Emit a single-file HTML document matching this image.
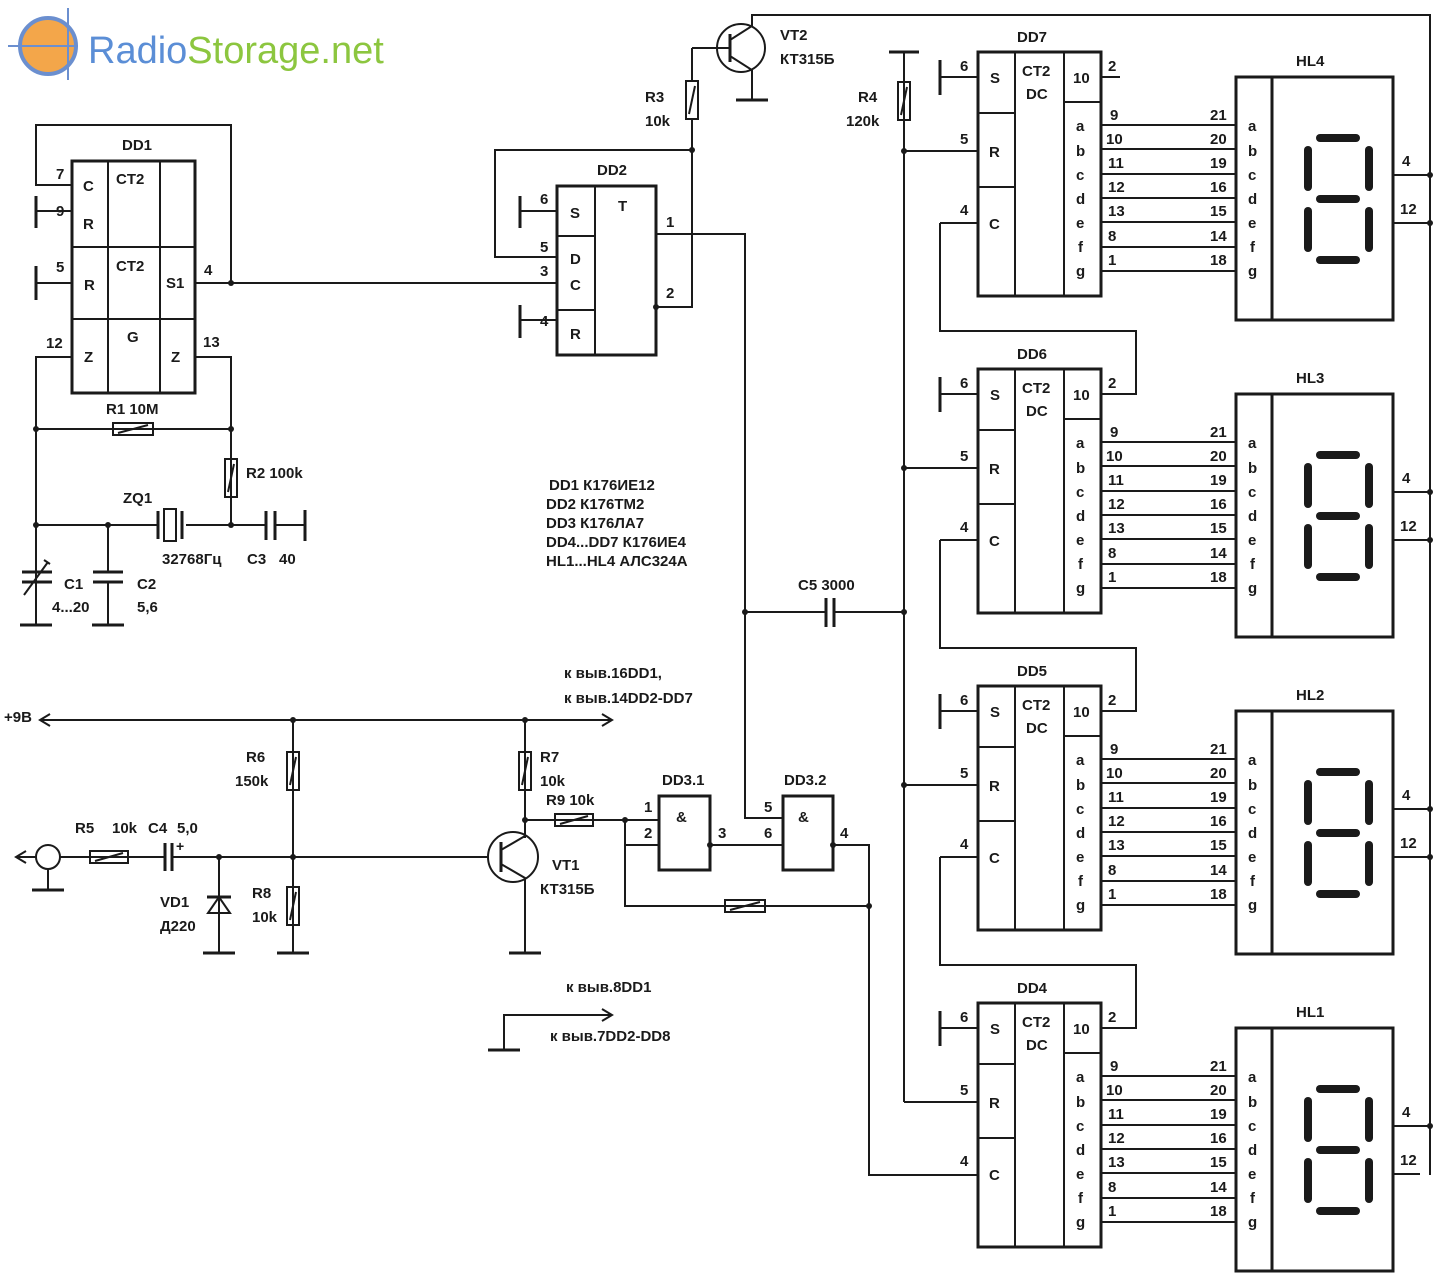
<!DOCTYPE html>
<html><head><meta charset="utf-8"><style>
html,body{margin:0;padding:0;background:#fff}
svg{display:block}
text{font-family:"Liberation Sans",sans-serif;font-size:15px;fill:#1a1a1a;font-weight:bold}
.l{stroke:#1a1a1a;stroke-width:2;fill:none}
.b{stroke:#1a1a1a;stroke-width:3;fill:none}
.s{stroke:#1a1a1a;stroke-width:8;stroke-linecap:round}
.d{fill:#1a1a1a}
</style></head><body>
<svg width="1447" height="1283" viewBox="0 0 1447 1283" xmlns="http://www.w3.org/2000/svg">
<rect width="1447" height="1283" fill="#fff"/>
<!-- logo -->
<circle cx="48" cy="46" r="28" fill="#f3a64a" stroke="#6b8fcf" stroke-width="4"/>
<line x1="8" y1="46" x2="78" y2="46" stroke="#6b8fcf" stroke-width="2"/>
<line x1="68" y1="8" x2="68" y2="80" stroke="#6b8fcf" stroke-width="2"/>
<text x="88" y="63" style="font-size:38px;font-weight:normal;fill:#5b8ed6">Radio<tspan style="fill:#8cc63f">Storage.net</tspan></text>

<!-- DD1 -->
<rect x="72" y="161" width="123" height="232" class="b"/>
<line x1="108" y1="161" x2="108" y2="393" class="l"/><line x1="160" y1="161" x2="160" y2="393" class="l"/>
<line x1="72" y1="247" x2="195" y2="247" class="l"/><line x1="72" y1="319" x2="195" y2="319" class="l"/>
<text x="122" y="150">DD1</text><text x="116" y="184">CT2</text><text x="116" y="271">CT2</text><text x="127" y="342">G</text>
<text x="83" y="191">C</text><text x="83" y="229">R</text><text x="84" y="290">R</text><text x="166" y="288">S1</text>
<text x="84" y="362">Z</text><text x="171" y="362">Z</text>
<text x="56" y="179">7</text><text x="56" y="216">9</text><text x="56" y="272">5</text><text x="46" y="348">12</text>
<text x="204" y="275">4</text><text x="203" y="347">13</text>
<polyline points="72,185 36,185 36,125 231,125 231,283" class="l"/>
<line x1="36" y1="211" x2="72" y2="211" class="l"/><line x1="36" y1="196" x2="36" y2="228" class="b"/>
<line x1="36" y1="283" x2="72" y2="283" class="l"/><line x1="36" y1="266" x2="36" y2="300" class="b"/>
<line x1="195" y1="283" x2="557" y2="283" class="l"/><circle cx="231" cy="283" r="3" class="d"/>
<polyline points="72,357 36,357 36,625" class="l"/>
<polyline points="195,357 231,357 231,525" class="l"/>
<!-- R1 -->
<line x1="36" y1="429" x2="231" y2="429" class="l"/><rect x="113" y="423" width="40" height="12" fill="#fff" class="l"/><line x1="118" y1="433" x2="148" y2="425" class="l"/>
<circle cx="36" cy="429" r="3" class="d"/><circle cx="231" cy="429" r="3" class="d"/>
<text x="106" y="414">R1 10M</text>
<!-- R2 -->
<rect x="225" y="459" width="12" height="38" fill="#fff" class="l"/><line x1="228" y1="492" x2="234" y2="464" class="l"/>
<text x="246" y="478">R2 100k</text>
<!-- crystal line -->
<line x1="36" y1="525" x2="158" y2="525" class="l"/><line x1="186" y1="525" x2="266" y2="525" class="l"/>
<line x1="158" y1="511" x2="158" y2="539" class="b"/><rect x="164" y="509" width="12" height="32" fill="#fff" class="l"/><line x1="182" y1="511" x2="182" y2="539" class="b"/>
<circle cx="36" cy="525" r="3" class="d"/><circle cx="108" cy="525" r="3" class="d"/><circle cx="231" cy="525" r="3" class="d"/>
<text x="123" y="503">ZQ1</text><text x="162" y="564">32768Гц</text>
<line x1="266" y1="511" x2="266" y2="540" class="b"/><line x1="275" y1="511" x2="275" y2="540" class="b"/><line x1="275" y1="525" x2="305" y2="525" class="l"/><line x1="305" y1="510" x2="305" y2="541" class="b"/>
<text x="247" y="564">C3</text><text x="279" y="564">40</text>
<!-- C1 C2 -->
<line x1="36" y1="525" x2="36" y2="572" class="l"/><line x1="22" y1="572" x2="52" y2="572" class="b"/><line x1="22" y1="582" x2="52" y2="582" class="b"/><line x1="36" y1="582" x2="36" y2="625" class="l"/>
<line x1="24" y1="595" x2="48" y2="562" class="l"/><line x1="44" y1="560" x2="50" y2="564" class="l"/>
<line x1="20" y1="625" x2="52" y2="625" class="b"/>
<line x1="108" y1="525" x2="108" y2="572" class="l"/><line x1="93" y1="572" x2="123" y2="572" class="b"/><line x1="93" y1="582" x2="123" y2="582" class="b"/><line x1="108" y1="582" x2="108" y2="625" class="l"/><line x1="92" y1="625" x2="124" y2="625" class="b"/>
<text x="64" y="589">C1</text><text x="52" y="612">4...20</text><text x="137" y="589">C2</text><text x="137" y="612">5,6</text>

<!-- DD2 -->
<rect x="557" y="186" width="99" height="169" class="b"/>
<line x1="595" y1="186" x2="595" y2="355" class="l"/><line x1="557" y1="236" x2="595" y2="236" class="l"/><line x1="557" y1="310" x2="595" y2="310" class="l"/>
<text x="597" y="175">DD2</text><text x="618" y="211">T</text>
<text x="570" y="218">S</text><text x="570" y="264">D</text><text x="570" y="290">C</text><text x="570" y="339">R</text>
<text x="540" y="204">6</text><text x="540" y="252">5</text><text x="540" y="276">3</text><text x="540" y="326">4</text>
<text x="666" y="227">1</text><text x="666" y="298">2</text>
<line x1="520" y1="211" x2="557" y2="211" class="l"/><line x1="520" y1="196" x2="520" y2="228" class="b"/>
<line x1="520" y1="320" x2="557" y2="320" class="l"/><line x1="520" y1="305" x2="520" y2="338" class="b"/>
<polyline points="557,257 495,257 495,150 692,150" class="l"/>
<polyline points="656,307 692,307 692,120" class="l"/><circle cx="692" cy="150" r="3" class="d"/><circle cx="656" cy="307" r="3" class="d"/>
<polyline points="656,234 745,234 745,818 783,818" class="l"/><circle cx="745" cy="612" r="3" class="d"/>
<!-- R3 VT2 -->
<rect x="686" y="81" width="12" height="38" fill="#fff" class="l"/><line x1="689" y1="114" x2="695" y2="86" class="l"/>
<text x="645" y="102">R3</text><text x="645" y="126">10k</text>
<line x1="692" y1="81" x2="692" y2="48" class="l"/><line x1="692" y1="48" x2="730" y2="48" class="l"/>
<circle cx="741" cy="48" r="24" class="l"/><line x1="730" y1="34" x2="730" y2="62" class="b"/>
<polyline points="730,40 752,26 752,15 1430,15 1430,1175" class="l"/>
<polyline points="730,56 752,70 752,100" class="l"/><line x1="736" y1="100" x2="768" y2="100" class="b"/>
<text x="780" y="40">VT2</text><text x="780" y="64">КТ315Б</text>
<!-- R4 -->
<line x1="889" y1="52" x2="919" y2="52" class="b"/>
<line x1="904" y1="52" x2="904" y2="1102" class="l"/>
<rect x="898" y="82" width="12" height="38" fill="#fff" class="l"/><line x1="901" y1="115" x2="907" y2="87" class="l"/>
<text x="858" y="102">R4</text><text x="846" y="126">120k</text>
<!-- C5 -->
<line x1="745" y1="612" x2="826" y2="612" class="l"/><line x1="826" y1="598" x2="826" y2="627" class="b"/><line x1="834" y1="598" x2="834" y2="627" class="b"/><line x1="834" y1="612" x2="904" y2="612" class="l"/><circle cx="904" cy="612" r="3" class="d"/>
<text x="798" y="590">C5 3000</text>
<!-- legend -->
<text x="549" y="490">DD1  К176ИЕ12</text><text x="546" y="509">DD2  К176ТМ2</text><text x="546" y="528">DD3  К176ЛА7</text><text x="546" y="547">DD4...DD7  К176ИЕ4</text><text x="546" y="566">HL1...HL4  АЛС324А</text>

<!-- power -->
<line x1="40" y1="720" x2="612" y2="720" class="l"/>
<polyline points="50,714 40,720 50,726" class="l"/><polyline points="602,714 612,720 602,726" class="l"/>
<text x="4" y="722">+9B</text><text x="564" y="678">к выв.16DD1,</text><text x="564" y="703">к выв.14DD2-DD7</text>
<circle cx="293" cy="720" r="3" class="d"/><circle cx="525" cy="720" r="3" class="d"/>
<line x1="293" y1="720" x2="293" y2="953" class="l"/>
<rect x="287" y="752" width="12" height="38" fill="#fff" class="l"/><line x1="290" y1="785" x2="296" y2="757" class="l"/>
<text x="246" y="762">R6</text><text x="235" y="786">150k</text>
<rect x="287" y="887" width="12" height="38" fill="#fff" class="l"/><line x1="290" y1="920" x2="296" y2="892" class="l"/>
<text x="252" y="898">R8</text><text x="252" y="922">10k</text>
<line x1="277" y1="953" x2="309" y2="953" class="b"/>
<line x1="525" y1="720" x2="525" y2="838" class="l"/>
<rect x="519" y="752" width="12" height="38" fill="#fff" class="l"/><line x1="522" y1="785" x2="528" y2="757" class="l"/>
<text x="540" y="762">R7</text><text x="540" y="786">10k</text>
<circle cx="525" cy="820" r="3" class="d"/>
<!-- input -->
<line x1="16" y1="857" x2="36" y2="857" class="l"/><polyline points="26,851 16,857 26,863" class="l"/>
<circle cx="48" cy="857" r="12" class="l"/><line x1="48" y1="869" x2="48" y2="890" class="l"/><line x1="32" y1="890" x2="64" y2="890" class="b"/>
<line x1="60" y1="857" x2="165" y2="857" class="l"/><line x1="172" y1="857" x2="488" y2="857" class="l"/>
<rect x="90" y="851" width="38" height="12" fill="#fff" class="l"/><line x1="95" y1="861" x2="123" y2="853" class="l"/>
<line x1="165" y1="843" x2="165" y2="871" class="b"/><line x1="172" y1="843" x2="172" y2="871" class="b"/>
<text x="176" y="851" style="font-size:14px">+</text>
<text x="75" y="833">R5</text><text x="112" y="833">10k</text><text x="148" y="833">C4</text><text x="177" y="833">5,0</text>
<circle cx="219" cy="857" r="3" class="d"/><circle cx="293" cy="857" r="3" class="d"/>
<line x1="219" y1="857" x2="219" y2="953" class="l"/>
<polygon points="208,913 230,913 219,897" fill="#fff" class="l"/><line x1="207" y1="897" x2="231" y2="897" class="b"/>
<line x1="203" y1="953" x2="235" y2="953" class="b"/>
<text x="160" y="907">VD1</text><text x="160" y="931">Д220</text>
<!-- VT1 -->
<circle cx="513" cy="857" r="25" class="l"/><line x1="501" y1="842" x2="501" y2="872" class="b"/>
<polyline points="501,850 525,836" class="l"/><polyline points="501,864 525,878 525,953" class="l"/>
<line x1="509" y1="953" x2="541" y2="953" class="b"/>
<text x="552" y="870">VT1</text><text x="540" y="894">КТ315Б</text>
<!-- R9 DD3 -->
<line x1="525" y1="820" x2="659" y2="820" class="l"/>
<rect x="555" y="814" width="38" height="12" fill="#fff" class="l"/><line x1="560" y1="824" x2="588" y2="816" class="l"/>
<text x="546" y="805">R9 10k</text>
<circle cx="625" cy="820" r="3" class="d"/>
<polyline points="625,820 625,906 869,906" class="l"/><line x1="625" y1="845" x2="659" y2="845" class="l"/>
<rect x="725" y="900" width="40" height="12" fill="#fff" class="l"/><line x1="730" y1="910" x2="760" y2="902" class="l"/>
<rect x="659" y="796" width="51" height="74" class="b"/><text x="676" y="822">&amp;</text><text x="662" y="785">DD3.1</text>
<text x="644" y="812">1</text><text x="644" y="838">2</text><text x="718" y="838">3</text>
<circle cx="710" cy="845" r="3" class="d"/><line x1="710" y1="845" x2="783" y2="845" class="l"/>
<rect x="783" y="796" width="50" height="74" class="b"/><text x="798" y="822">&amp;</text><text x="784" y="785">DD3.2</text>
<text x="764" y="812">5</text><text x="764" y="838">6</text><text x="840" y="838">4</text>
<circle cx="833" cy="845" r="3" class="d"/><polyline points="833,845 869,845 869,1175 978,1175" class="l"/><circle cx="869" cy="906" r="3" class="d"/>
<!-- ground ref -->
<polyline points="504,1050 504,1015 612,1015" class="l"/><polyline points="602,1009 612,1015 602,1021" class="l"/>
<line x1="488" y1="1050" x2="520" y2="1050" class="b"/>
<text x="566" y="992">к выв.8DD1</text><text x="550" y="1041">к выв.7DD2-DD8</text>

<!-- DD7/HL4 block template, repeated -->
<g id="blk">
<rect x="978" y="52" width="123" height="244" class="b"/>
<line x1="1015" y1="52" x2="1015" y2="296" class="l"/><line x1="1064" y1="52" x2="1064" y2="296" class="l"/>
<line x1="978" y1="113" x2="1015" y2="113" class="l"/><line x1="978" y1="187" x2="1015" y2="187" class="l"/><line x1="1064" y1="102" x2="1101" y2="102" class="l"/>
<text x="990" y="83">S</text><text x="989" y="157">R</text><text x="989" y="229">C</text>
<text x="1022" y="76">CT2</text><text x="1026" y="99">DC</text><text x="1073" y="83">10</text>
<text x="1076" y="131">a</text><text x="1076" y="156">b</text><text x="1076" y="180">c</text><text x="1076" y="204">d</text><text x="1076" y="228">e</text><text x="1078" y="252">f</text><text x="1076" y="276">g</text>
<text x="960" y="71">6</text><text x="960" y="144">5</text><text x="960" y="215">4</text><text x="1108" y="71">2</text>
<line x1="940" y1="77" x2="978" y2="77" class="l"/><line x1="940" y1="60" x2="940" y2="95" class="b"/>
<line x1="904" y1="151" x2="978" y2="151" class="l"/><circle cx="904" cy="151" r="3" class="d"/>
<line x1="940" y1="223" x2="978" y2="223" class="l"/>
<g class="l">
<line x1="1101" y1="125" x2="1236" y2="125"/><line x1="1101" y1="149" x2="1236" y2="149"/><line x1="1101" y1="174" x2="1236" y2="174"/><line x1="1101" y1="198" x2="1236" y2="198"/><line x1="1101" y1="222" x2="1236" y2="222"/><line x1="1101" y1="247" x2="1236" y2="247"/><line x1="1101" y1="271" x2="1236" y2="271"/>
</g>
<text x="1110" y="120">9</text><text x="1106" y="144">10</text><text x="1108" y="168">11</text><text x="1108" y="192">12</text><text x="1108" y="216">13</text><text x="1108" y="241">8</text><text x="1108" y="265">1</text>
<text x="1210" y="120">21</text><text x="1210" y="144">20</text><text x="1210" y="168">19</text><text x="1210" y="192">16</text><text x="1210" y="216">15</text><text x="1210" y="241">14</text><text x="1210" y="265">18</text>
<rect x="1236" y="77" width="157" height="243" class="b"/><line x1="1272" y1="77" x2="1272" y2="320" class="b"/>
<text x="1248" y="131">a</text><text x="1248" y="156">b</text><text x="1248" y="180">c</text><text x="1248" y="204">d</text><text x="1248" y="228">e</text><text x="1250" y="252">f</text><text x="1248" y="276">g</text>
<line x1="1320" y1="138" x2="1356" y2="138" class="s"/><line x1="1320" y1="199" x2="1356" y2="199" class="s"/><line x1="1320" y1="260" x2="1356" y2="260" class="s"/>
<line x1="1308" y1="150" x2="1308" y2="187" class="s"/><line x1="1369" y1="150" x2="1369" y2="187" class="s"/>
<line x1="1308" y1="211" x2="1308" y2="248" class="s"/><line x1="1369" y1="211" x2="1369" y2="248" class="s"/>
<line x1="1393" y1="175" x2="1430" y2="175" class="l"/><line x1="1393" y1="223" x2="1430" y2="223" class="l"/>
<circle cx="1430" cy="175" r="3" class="d"/><circle cx="1430" cy="223" r="3" class="d"/>
<text x="1402" y="166">4</text><text x="1400" y="214">12</text>
</g>
<text x="1017" y="42">DD7</text><text x="1296" y="66">HL4</text>
<line x1="1101" y1="77" x2="1120" y2="77" class="l"/>

<g transform="translate(0,317)">
<rect x="978" y="52" width="123" height="244" class="b"/>
<line x1="1015" y1="52" x2="1015" y2="296" class="l"/><line x1="1064" y1="52" x2="1064" y2="296" class="l"/>
<line x1="978" y1="113" x2="1015" y2="113" class="l"/><line x1="978" y1="187" x2="1015" y2="187" class="l"/><line x1="1064" y1="102" x2="1101" y2="102" class="l"/>
<text x="990" y="83">S</text><text x="989" y="157">R</text><text x="989" y="229">C</text>
<text x="1022" y="76">CT2</text><text x="1026" y="99">DC</text><text x="1073" y="83">10</text>
<text x="1076" y="131">a</text><text x="1076" y="156">b</text><text x="1076" y="180">c</text><text x="1076" y="204">d</text><text x="1076" y="228">e</text><text x="1078" y="252">f</text><text x="1076" y="276">g</text>
<text x="960" y="71">6</text><text x="960" y="144">5</text><text x="960" y="215">4</text><text x="1108" y="71">2</text>
<line x1="940" y1="77" x2="978" y2="77" class="l"/><line x1="940" y1="60" x2="940" y2="95" class="b"/>
<line x1="904" y1="151" x2="978" y2="151" class="l"/><circle cx="904" cy="151" r="3" class="d"/>
<line x1="940" y1="223" x2="978" y2="223" class="l"/>
<polyline points="1101,77 1136,77 1136,14 940,14 940,-94" class="l"/>
<g class="l">
<line x1="1101" y1="125" x2="1236" y2="125"/><line x1="1101" y1="149" x2="1236" y2="149"/><line x1="1101" y1="174" x2="1236" y2="174"/><line x1="1101" y1="198" x2="1236" y2="198"/><line x1="1101" y1="222" x2="1236" y2="222"/><line x1="1101" y1="247" x2="1236" y2="247"/><line x1="1101" y1="271" x2="1236" y2="271"/>
</g>
<text x="1110" y="120">9</text><text x="1106" y="144">10</text><text x="1108" y="168">11</text><text x="1108" y="192">12</text><text x="1108" y="216">13</text><text x="1108" y="241">8</text><text x="1108" y="265">1</text>
<text x="1210" y="120">21</text><text x="1210" y="144">20</text><text x="1210" y="168">19</text><text x="1210" y="192">16</text><text x="1210" y="216">15</text><text x="1210" y="241">14</text><text x="1210" y="265">18</text>
<rect x="1236" y="77" width="157" height="243" class="b"/><line x1="1272" y1="77" x2="1272" y2="320" class="b"/>
<text x="1248" y="131">a</text><text x="1248" y="156">b</text><text x="1248" y="180">c</text><text x="1248" y="204">d</text><text x="1248" y="228">e</text><text x="1250" y="252">f</text><text x="1248" y="276">g</text>
<line x1="1320" y1="138" x2="1356" y2="138" class="s"/><line x1="1320" y1="199" x2="1356" y2="199" class="s"/><line x1="1320" y1="260" x2="1356" y2="260" class="s"/>
<line x1="1308" y1="150" x2="1308" y2="187" class="s"/><line x1="1369" y1="150" x2="1369" y2="187" class="s"/>
<line x1="1308" y1="211" x2="1308" y2="248" class="s"/><line x1="1369" y1="211" x2="1369" y2="248" class="s"/>
<line x1="1393" y1="175" x2="1430" y2="175" class="l"/><line x1="1393" y1="223" x2="1430" y2="223" class="l"/>
<circle cx="1430" cy="175" r="3" class="d"/><circle cx="1430" cy="223" r="3" class="d"/>
<text x="1402" y="166">4</text><text x="1400" y="214">12</text>
<text x="1017" y="42">DD6</text><text x="1296" y="66">HL3</text>
</g>

<g transform="translate(0,634)">
<rect x="978" y="52" width="123" height="244" class="b"/>
<line x1="1015" y1="52" x2="1015" y2="296" class="l"/><line x1="1064" y1="52" x2="1064" y2="296" class="l"/>
<line x1="978" y1="113" x2="1015" y2="113" class="l"/><line x1="978" y1="187" x2="1015" y2="187" class="l"/><line x1="1064" y1="102" x2="1101" y2="102" class="l"/>
<text x="990" y="83">S</text><text x="989" y="157">R</text><text x="989" y="229">C</text>
<text x="1022" y="76">CT2</text><text x="1026" y="99">DC</text><text x="1073" y="83">10</text>
<text x="1076" y="131">a</text><text x="1076" y="156">b</text><text x="1076" y="180">c</text><text x="1076" y="204">d</text><text x="1076" y="228">e</text><text x="1078" y="252">f</text><text x="1076" y="276">g</text>
<text x="960" y="71">6</text><text x="960" y="144">5</text><text x="960" y="215">4</text><text x="1108" y="71">2</text>
<line x1="940" y1="77" x2="978" y2="77" class="l"/><line x1="940" y1="60" x2="940" y2="95" class="b"/>
<line x1="904" y1="151" x2="978" y2="151" class="l"/><circle cx="904" cy="151" r="3" class="d"/>
<line x1="940" y1="223" x2="978" y2="223" class="l"/>
<polyline points="1101,77 1136,77 1136,14 940,14 940,-94" class="l"/>
<g class="l">
<line x1="1101" y1="125" x2="1236" y2="125"/><line x1="1101" y1="149" x2="1236" y2="149"/><line x1="1101" y1="174" x2="1236" y2="174"/><line x1="1101" y1="198" x2="1236" y2="198"/><line x1="1101" y1="222" x2="1236" y2="222"/><line x1="1101" y1="247" x2="1236" y2="247"/><line x1="1101" y1="271" x2="1236" y2="271"/>
</g>
<text x="1110" y="120">9</text><text x="1106" y="144">10</text><text x="1108" y="168">11</text><text x="1108" y="192">12</text><text x="1108" y="216">13</text><text x="1108" y="241">8</text><text x="1108" y="265">1</text>
<text x="1210" y="120">21</text><text x="1210" y="144">20</text><text x="1210" y="168">19</text><text x="1210" y="192">16</text><text x="1210" y="216">15</text><text x="1210" y="241">14</text><text x="1210" y="265">18</text>
<rect x="1236" y="77" width="157" height="243" class="b"/><line x1="1272" y1="77" x2="1272" y2="320" class="b"/>
<text x="1248" y="131">a</text><text x="1248" y="156">b</text><text x="1248" y="180">c</text><text x="1248" y="204">d</text><text x="1248" y="228">e</text><text x="1250" y="252">f</text><text x="1248" y="276">g</text>
<line x1="1320" y1="138" x2="1356" y2="138" class="s"/><line x1="1320" y1="199" x2="1356" y2="199" class="s"/><line x1="1320" y1="260" x2="1356" y2="260" class="s"/>
<line x1="1308" y1="150" x2="1308" y2="187" class="s"/><line x1="1369" y1="150" x2="1369" y2="187" class="s"/>
<line x1="1308" y1="211" x2="1308" y2="248" class="s"/><line x1="1369" y1="211" x2="1369" y2="248" class="s"/>
<line x1="1393" y1="175" x2="1430" y2="175" class="l"/><line x1="1393" y1="223" x2="1430" y2="223" class="l"/>
<circle cx="1430" cy="175" r="3" class="d"/><circle cx="1430" cy="223" r="3" class="d"/>
<text x="1402" y="166">4</text><text x="1400" y="214">12</text>
<text x="1017" y="42">DD5</text><text x="1296" y="66">HL2</text>
</g>

<g transform="translate(0,951)">
<rect x="978" y="52" width="123" height="244" class="b"/>
<line x1="1015" y1="52" x2="1015" y2="296" class="l"/><line x1="1064" y1="52" x2="1064" y2="296" class="l"/>
<line x1="978" y1="113" x2="1015" y2="113" class="l"/><line x1="978" y1="187" x2="1015" y2="187" class="l"/><line x1="1064" y1="102" x2="1101" y2="102" class="l"/>
<text x="990" y="83">S</text><text x="989" y="157">R</text><text x="989" y="229">C</text>
<text x="1022" y="76">CT2</text><text x="1026" y="99">DC</text><text x="1073" y="83">10</text>
<text x="1076" y="131">a</text><text x="1076" y="156">b</text><text x="1076" y="180">c</text><text x="1076" y="204">d</text><text x="1076" y="228">e</text><text x="1078" y="252">f</text><text x="1076" y="276">g</text>
<text x="960" y="71">6</text><text x="960" y="144">5</text><text x="960" y="215">4</text><text x="1108" y="71">2</text>
<line x1="940" y1="77" x2="978" y2="77" class="l"/><line x1="940" y1="60" x2="940" y2="95" class="b"/>
<polyline points="904,151 978,151" class="l"/>
<polyline points="1101,77 1136,77 1136,14 940,14 940,-94" class="l"/>
<g class="l">
<line x1="1101" y1="125" x2="1236" y2="125"/><line x1="1101" y1="149" x2="1236" y2="149"/><line x1="1101" y1="174" x2="1236" y2="174"/><line x1="1101" y1="198" x2="1236" y2="198"/><line x1="1101" y1="222" x2="1236" y2="222"/><line x1="1101" y1="247" x2="1236" y2="247"/><line x1="1101" y1="271" x2="1236" y2="271"/>
</g>
<text x="1110" y="120">9</text><text x="1106" y="144">10</text><text x="1108" y="168">11</text><text x="1108" y="192">12</text><text x="1108" y="216">13</text><text x="1108" y="241">8</text><text x="1108" y="265">1</text>
<text x="1210" y="120">21</text><text x="1210" y="144">20</text><text x="1210" y="168">19</text><text x="1210" y="192">16</text><text x="1210" y="216">15</text><text x="1210" y="241">14</text><text x="1210" y="265">18</text>
<rect x="1236" y="77" width="157" height="243" class="b"/><line x1="1272" y1="77" x2="1272" y2="320" class="b"/>
<text x="1248" y="131">a</text><text x="1248" y="156">b</text><text x="1248" y="180">c</text><text x="1248" y="204">d</text><text x="1248" y="228">e</text><text x="1250" y="252">f</text><text x="1248" y="276">g</text>
<line x1="1320" y1="138" x2="1356" y2="138" class="s"/><line x1="1320" y1="199" x2="1356" y2="199" class="s"/><line x1="1320" y1="260" x2="1356" y2="260" class="s"/>
<line x1="1308" y1="150" x2="1308" y2="187" class="s"/><line x1="1369" y1="150" x2="1369" y2="187" class="s"/>
<line x1="1308" y1="211" x2="1308" y2="248" class="s"/><line x1="1369" y1="211" x2="1369" y2="248" class="s"/>
<line x1="1393" y1="175" x2="1430" y2="175" class="l"/><line x1="1393" y1="223" x2="1420" y2="223" class="l"/>
<circle cx="1430" cy="175" r="3" class="d"/>
<text x="1402" y="166">4</text><text x="1400" y="214">12</text>
<text x="1017" y="42">DD4</text><text x="1296" y="66">HL1</text>
</g>
</svg>
</body></html>
